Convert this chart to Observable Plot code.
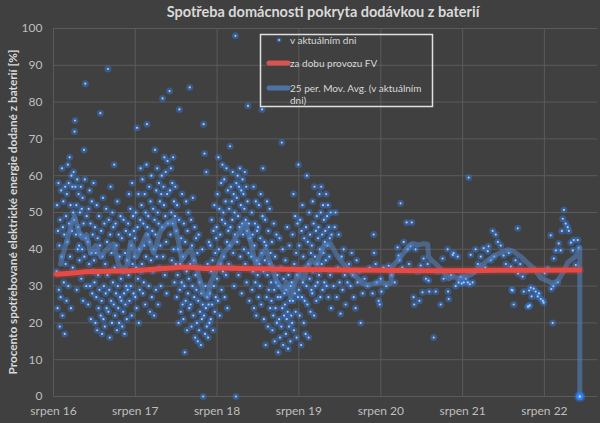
<!DOCTYPE html>
<html><head><meta charset="utf-8">
<script src="https://cdn.jsdelivr.net/npm/d3@7"></script>
<script src="https://cdn.jsdelivr.net/npm/@observablehq/plot@0.6"></script>
<style>
html,body{margin:0;padding:0;background:#404040;}
#chart{width:600px;height:423px;}
</style></head><body><div id="chart"></div>
<script>
// ---- tick labels ----
const xTickDates = ["2016-08-01","2017-08-01","2018-08-01","2019-08-01","2020-08-01","2021-08-01","2022-08-01"];
const xTickLabels = ["srpen 16","srpen 17","srpen 18","srpen 19","srpen 20","srpen 21","srpen 22"];
const yTicks = [0,10,20,30,40,50,60,70,80,90,100];

// ---- daily values (every 2nd day) ----
const start2016 = "2016-08-15";
const vals2016 = [34,52,24,45,58,29,41,19,
 48,27,56,38,62,22,46,53,31,44,17,57,36,49,26,
 55,42,63,30,58,47,65,38,52,24,60,45,57,35,50,
 61,48,72,75,57,44,52,29,59,40,46,55,41,37,50,
 44,57,32,51,40,54,26,47,67,38,59,85,43,30,49];
const start2017 = "2017-01-01";
const vals2017 = [42,25,51,36,56,30,47,21,39,53,28,44,34,58,37,
 31,46,20,39,27,52,18,43,33,24,49,29,41,77,22,
 45,26,17,38,54,21,30,47,19,36,28,51,24,42,33,
 89,23,48,29,16,44,57,26,39,20,50,31,46,25,63,
 35,22,47,28,41,18,53,30,24,44,20,38,27,49,32,
 26,43,19,34,23,48,28,17,39,25,45,30,21,37,29,
 47,33,55,26,44,51,30,41,22,58,36,49,28,45,38,
 43,27,50,35,24,73,46,32,55,20,40,29,48,62,34,
 52,36,59,28,47,31,41,55,25,50,38,63,74,46,44,
 49,30,57,42,23,53,37,60,27,45,34,51,40,22,48,
 67,44,29,56,38,62,50,25,47,58,35,53,41,30,55,
 60,46,81,38,57,52,65,33,49,61,42,28,55,64,47];
const start2018 = "2018-01-01";
const vals2018 = [83,56,44,62,50,37,58,47,65,40,53,31,49,57,36,
 45,27,52,33,40,20,48,78,29,36,23,43,31,55,25,
 38,21,47,30,12,42,26,53,34,18,45,28,50,32,24,
 84,36,25,48,19,41,30,54,22,37,27,46,16,33,43,
 29,20,39,15,26,44,18,31,23,35,14,28,21,40,25,
 0,74,22,66,17,30,24,61,19,27,36,16,25,42,20,
 28,41,21,34,48,25,37,18,45,30,52,23,39,27,43,
 46,32,55,26,65,40,51,22,44,36,58,29,48,63,34,
 50,38,59,27,47,53,33,62,42,24,56,45,36,51,41,
 68,46,57,35,53,48,61,39,55,30,50,44,98,0,58,
 54,42,60,49,33,57,46,62,38,52,56,28,47,59,44,
 55,40,51,61,36,48,57,31,45,53,79,39,47,26,43];
const start2019 = "2019-01-01";
const vals2019 = [38,50,29,44,34,57,24,41,47,31,53,22,37,45,33,
 46,27,52,36,30,43,55,25,39,78,49,62,34,21,42,
 37,48,14,41,27,53,33,19,45,29,36,51,24,39,31,
 26,42,18,35,22,47,29,15,38,24,31,44,20,33,27,
 12,30,21,43,16,27,35,19,69,24,40,14,32,22,28,
 25,37,17,29,21,46,23,13,33,19,41,26,15,30,22,
 31,20,44,26,55,18,36,28,49,23,39,16,33,47,27,
 63,29,41,22,48,34,14,45,27,52,31,38,20,43,26,
 35,17,46,30,60,25,42,36,16,50,32,44,23,39,29,
 41,28,53,34,47,22,57,38,30,45,26,49,36,31,43,
 46,33,55,40,27,50,57,36,44,29,52,39,48,31,42,
 45,37,55,30,49,41,52,27,46,38,43,33,50,24,44];

// ---- later, sparser days (date, %) ----
const laterDays = [["2020-01-03",30],["2020-01-08",46],["2020-01-12",50],["2020-01-17",27],["2020-01-22",35],["2020-01-26",44],["2020-01-30",31],["2020-02-03",22.5],["2020-02-08",38],["2020-02-12",29],["2020-02-17",40],["2020-02-22",33],["2020-02-26",25],["2020-03-05",31],["2020-03-12",36],["2020-03-19",30],["2020-03-24",39],["2020-03-29",33],["2020-04-02",27],["2020-04-10",24],["2020-04-15",37],["2020-04-19",31],["2020-04-25",34],["2020-05-03",20],["2020-05-12",28],["2020-05-20",32],["2020-06-03",30],["2020-06-12",35],["2020-06-25",28],["2020-06-30",44],["2020-07-02",39],["2020-07-09",36],["2020-07-13",31],["2020-07-22",26],["2020-07-27",25],["2020-07-31",32],["2020-08-04",28.5],["2020-08-13",35],["2020-08-25",30],["2020-09-05",35.5],["2020-09-18",33],["2020-10-02",31],["2020-10-15",40.5],["2020-10-19",38.3],["2020-10-24",37],["2020-10-28",52.5],["2020-11-05",35],["2020-11-11",42],["2020-11-24",47.3],["2020-11-29",40],["2020-12-05",36],["2020-12-12",40.8],["2020-12-17",47.3],["2020-12-25",27],["2020-12-28",25],["2021-01-03",40],["2021-01-12",34],["2021-01-20",26],["2021-01-26",35.6],["2021-02-03",28.3],["2021-02-08",37.5],["2021-02-18",32],["2021-02-26",36],["2021-03-02",31.5],["2021-03-05",28.5],["2021-03-25",16],["2021-04-03",28.5],["2021-04-12",34],["2021-04-25",25],["2021-05-04",37.5],["2021-05-08",32],["2021-05-26",40],["2021-05-28",28.5],["2021-05-31",26.5],["2021-06-10",33],["2021-06-18",38.5],["2021-06-22",39],["2021-07-01",30],["2021-07-10",38],["2021-07-14",31],["2021-07-23",32.5],["2021-07-28",30.7],["2021-08-06",31],["2021-08-15",32],["2021-08-24",31],["2021-08-28",59.5],["2021-09-02",30.5],["2021-09-06",38.5],["2021-09-15",31],["2021-09-22",34],["2021-09-28",40],["2021-10-08",36],["2021-10-21",38],["2021-11-03",40.3],["2021-11-10",35],["2021-11-21",39.5],["2021-11-25",40.8],["2021-12-05",37],["2021-12-13",45],["2021-12-20",38],["2021-12-27",44],["2022-01-05",42],["2022-01-18",41],["2022-01-31",38.3],["2022-02-10",36],["2022-02-23",39],["2022-03-04",35.3],["2022-03-08",29],["2022-03-12",28.8],["2022-03-17",25],["2022-03-25",37],["2022-04-04",45.7],["2022-04-06",33.4],["2022-04-15",36],["2022-04-26",32.6],["2022-05-01",28.5],["2022-05-10",34],["2022-05-19",24.4],["2022-05-23",24.5],["2022-05-25",28.8],["2022-05-28",24.8],["2022-06-01",29.6],["2022-06-05",27.2],["2022-06-14",29.3],["2022-06-23",28.5],["2022-07-02",27.2],["2022-07-08",28],["2022-07-16",26.5],["2022-07-25",26],["2022-07-29",25.5],["2022-08-02",33.5],["2022-08-16",34.8],["2022-08-29",43.8],["2022-09-01",29.2],["2022-09-07",20],["2022-09-10",30],["2022-09-12",37.5],["2022-09-21",39.7],["2022-09-30",31],["2022-10-04",41.6],["2022-10-13",39.7],["2022-10-18",45],["2022-10-22",48.3],["2022-10-27",50.7],["2022-11-04",47],["2022-11-13",46],["2022-11-18",45],["2022-11-27",41.8],["2022-12-06",39.7],["2022-12-10",42.5],["2022-12-19",35.7],["2022-12-28",42.5],["2023-01-01",40.4]];
const lastDay = [["2023-01-06",0]];

// ---- "za dobu provozu FV" (running average) ----
const cumAvg = [["2016-08-14",33.2],["2016-10-16",33.5],["2017-01-13",34.0],["2017-04-24",34.1],["2017-07-11",34.2],["2017-10-08",34.5],["2018-01-05",34.9],["2018-02-19",35.1],["2018-04-05",35.1],["2018-06-11",34.8],["2018-08-17",34.9],["2018-11-14",34.8],["2019-02-11",34.7],["2019-05-12",34.6],["2019-08-09",34.5],["2020-02-03",34.4],["2020-07-31",34.3],["2021-01-26",34.2],["2021-07-23",34.2],["2022-01-18",34.3],["2022-07-15",34.3],["2023-01-06",34.4]];

// ---- 25 per. Mov. Avg. ----
const movAvg = [["2016-09-01",36],["2016-09-28",42],["2016-10-16",46],["2016-11-03",49],["2016-11-21",45],["2016-12-08",43],["2016-12-26",44],["2017-01-13",39],["2017-02-05",41],["2017-02-27",38],["2017-03-26",40],["2017-04-26",41.5],["2017-05-18",36],["2017-06-10",34],["2017-06-27",36],["2017-07-11",42],["2017-08-07",38],["2017-08-29",41],["2017-09-20",44],["2017-10-22",39],["2017-11-22",45],["2017-12-19",47],["2018-01-19",48],["2018-02-10",42],["2018-02-24",37],["2018-03-18",39],["2018-04-05",40],["2018-05-06",34],["2018-06-02",28],["2018-06-20",27],["2018-07-03",31],["2018-08-03",35],["2018-08-30",39],["2018-09-30",41],["2018-11-01",44],["2018-12-06",47],["2018-12-29",42],["2019-01-20",36],["2019-02-11",38],["2019-03-06",40],["2019-03-28",36],["2019-04-19",32],["2019-05-20",29],["2019-06-07",31],["2019-06-25",27],["2019-07-26",33],["2019-08-22",32],["2019-09-23",37],["2019-10-20",36],["2019-11-20",41],["2019-12-21",41.5],["2020-01-21",38],["2020-02-26",35.3],["2020-04-02",33],["2020-04-19",32.2],["2020-05-12",30.7],["2020-06-03",30.3],["2020-07-09",30.8],["2020-07-31",31],["2020-08-22",30.8],["2020-09-13",30.7],["2020-09-18",33],["2020-09-23",35.5],["2020-10-15",37],["2020-11-11",39],["2020-12-04",41],["2020-12-21",41.6],["2021-01-17",41.2],["2021-02-08",41.5],["2021-02-26",41.4],["2021-03-02",38],["2021-03-16",37],["2021-04-11",35.6],["2021-05-08",33.8],["2021-05-31",32],["2021-06-22",32.6],["2021-07-14",32],["2021-08-06",32.6],["2021-09-06",33],["2021-10-08",34.8],["2021-11-12",36.6],["2021-12-18",38.2],["2022-01-27",39.4],["2022-02-19",39.9],["2022-03-17",39.4],["2022-04-18",38],["2022-05-19",36.2],["2022-06-14",34.9],["2022-07-16",32.2],["2022-08-16",31.4],["2022-09-07",30.7],["2022-09-30",31.5],["2022-10-22",33.6],["2022-11-13",36.4],["2022-12-06",37.5],["2022-12-28",38.6],["2023-01-06",40.4],["2023-01-06",0]];

// ---- build rows ----
const parse = s => new Date(s + "T00:00:00Z");
function seq(start, vals) {
  const s = parse(start);
  return vals.map((v, i) => ({date: d3.utcDay.offset(s, 2 * i), value: v}));
}
const days = [
  ...seq(start2016, vals2016), ...seq(start2017, vals2017),
  ...seq(start2018, vals2018), ...seq(start2019, vals2019),
  ...laterDays.map(([d, v]) => ({date: parse(d), value: v}))
];
const last = lastDay.map(([d, v]) => ({date: parse(d), value: v}));
const cum = cumAvg.map(([d, v]) => ({date: parse(d), value: v}));
const ma = movAvg.map(([d, v]) => ({date: parse(d), value: v}));
const xTicks = xTickDates.map(parse);
const tickLabel = d => xTickLabels[xTicks.findIndex(t => +t === +d)];

const chart = Plot.plot({
  width: 600, height: 423,
  marginLeft: 53, marginRight: 3, marginTop: 28, marginBottom: 27,
  style: {background: "#404040", color: "#bfbfbf", fontFamily: "Lato, 'Open Sans', sans-serif", fontSize: "12px"},
  x: {type: "utc", domain: [parse("2016-08-01"), parse("2023-03-26")]},
  y: {domain: [0, 100]},
  marks: [
    Plot.gridY(yTicks, {stroke: "#5a5a5a", strokeOpacity: 1}),
    Plot.gridX(xTicks, {stroke: "#5a5a5a", strokeOpacity: 1}),
    Plot.axisY(yTicks, {tickSize: 0, tickPadding: 11, label: null}),
    Plot.axisX(xTicks, {tickSize: 0, tickPadding: 10, label: null, tickFormat: tickLabel}),
    Plot.dot(days, {x: "date", y: "value", r: 3.5, fill: "#3474d0", fillOpacity: 0.5, stroke: "none"}),
    Plot.dot(days, {x: "date", y: "value", r: 1.1, fill: "#a8cbf8", stroke: "none"}),
    Plot.line(ma, {x: "date", y: "value", stroke: "#5585c4", strokeWidth: 5, strokeOpacity: 0.55, strokeLinejoin: "round"}),
    Plot.line(cum, {x: "date", y: "value", stroke: "#e8463f", strokeWidth: 9, strokeOpacity: 0.22, curve: "monotone-x"}),
    Plot.line(cum, {x: "date", y: "value", stroke: "#e64a44", strokeWidth: 5, strokeLinecap: "round", curve: "monotone-x"}),
    Plot.dot(last, {x: "date", y: "value", r: 5.5, fill: "#2a78e8", fillOpacity: 0.45, stroke: "none"}),
    Plot.dot(last, {x: "date", y: "value", r: 3.8, fill: "#2f80f0", stroke: "none"}),
    Plot.dot(last, {x: "date", y: "value", r: 1.2, fill: "#c4dcff", stroke: "none"})
  ]
});
document.getElementById("chart").appendChild(chart);

// ---- title, axis title and legend as real text ----
const svg = d3.select(chart);
svg.append("text").attr("x", 323).attr("y", 17).attr("text-anchor", "middle")
  .attr("fill", "#d9d9d9").attr("font-family", "Lato, sans-serif").attr("font-weight", "bold").attr("font-size", 14.5)
  .text("Spotřeba domácnosti pokryta dodávkou z baterií");
svg.append("text").attr("transform", "translate(17,212) rotate(-90)").attr("text-anchor", "middle")
  .attr("fill", "#d9d9d9").attr("font-family", "Lato, sans-serif").attr("font-weight", "bold").attr("font-size", 11.5)
  .attr("textLength", 325).attr("lengthAdjust", "spacingAndGlyphs")
  .text("Procento spotřebované elektrické energie dodané z baterií [%]");
const lg = svg.append("g").attr("font-family", "Lato, sans-serif").attr("font-size", 10)
  .attr("fill", "#d9d9d9").attr("text-anchor", "start");
lg.append("rect").attr("x", 260.5).attr("y", 34.5).attr("width", 172).attr("height", 72)
  .attr("fill", "none").attr("stroke", "#e0e0e0").attr("stroke-width", 1.5);
lg.append("circle").attr("cx", 279).attr("cy", 40).attr("r", 2.6).attr("fill", "#3474d0").attr("fill-opacity", 0.55);
lg.append("circle").attr("cx", 279).attr("cy", 40).attr("r", 1).attr("fill", "#a8cbf8");
lg.append("text").attr("x", 290).attr("y", 44).attr("text-anchor", "start").text("v aktuálním dni");
lg.append("line").attr("x1", 269).attr("x2", 288).attr("y1", 63).attr("y2", 63)
  .attr("stroke", "#d9534f").attr("stroke-width", 5).attr("stroke-linecap", "round");
lg.append("text").attr("x", 290).attr("y", 67).attr("text-anchor", "start").text("za dobu provozu FV");
lg.append("line").attr("x1", 269).attr("x2", 288).attr("y1", 88).attr("y2", 88)
  .attr("stroke", "#4f72a6").attr("stroke-width", 5).attr("stroke-linecap", "round");
lg.append("text").attr("x", 290).attr("y", 92).attr("text-anchor", "start").text("25 per. Mov. Avg. (v aktuálním");
lg.append("text").attr("x", 290).attr("y", 104).attr("text-anchor", "start").text("dni)");
</script></body></html>
